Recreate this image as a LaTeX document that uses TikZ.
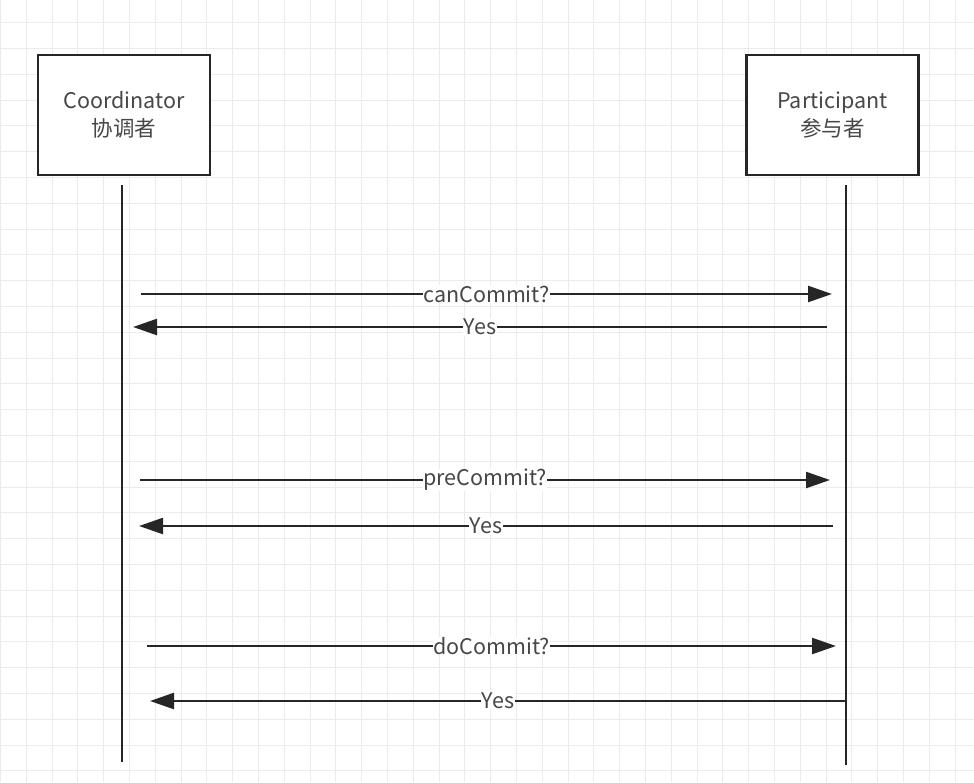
\documentclass[tikz,border=0pt]{standalone}
\usepackage{fontspec}
\setmainfont{Noto Sans CJK SC}
\usepackage{tikz}
\usetikzlibrary{arrows.meta}

\begin{document}
\begin{tikzpicture}[x=1pt, y=-1pt,
    gridline/.style={draw=black!8, line width=1pt},
    actor/.style={draw=black!85, line width=2.6pt, fill=white, minimum width=172pt, minimum height=120pt, align=center, text=black!72, font=\fontsize{21.5}{28}\selectfont},
    lifeline/.style={draw=black!85, line width=2.6pt},
    msg/.style={draw=black!85, line width=2.4pt, -{Triangle[length=24pt, width=16pt]}},
    lbl/.style={fill=white, inner sep=0.5pt, text=black!72, font=\fontsize{21.5}{26}\selectfont}]
    % 1. Background and grid
    \useasboundingbox (0,0) rectangle (974,782);
    \fill[white] (0,0) rectangle (974,782);
    \foreach \i in {0,...,37} {
        \draw[gridline] (0.4+25.8*\i,0) -- (0.4+25.8*\i,782);
    }
    \foreach \j in {0,...,30} {
        \draw[gridline] (0,22.6+25.8*\j-25.8) -- (974,22.6+25.8*\j-25.8);
    }

    % 2. The two parties
    \node[actor] (coord) at (124,115) {Coordinator\\协调者};
    \node[actor] (part) at (832.5,115) {Participant\\参与者};

    % 3. Lifelines
    \coordinate (coordTop) at (122,185);
    \coordinate (coordBot) at (122,762);
    \coordinate (partTop) at (846,185);
    \coordinate (partBot) at (846,765);
    \draw[lifeline] (coordTop) -- (coordBot);
    \draw[lifeline] (partTop) -- (partBot);

    % 4. Phase one: canCommit
    \coordinate (canA) at (141,294);
    \coordinate (canB) at (832,294);
    \coordinate (yesOneA) at (827,327);
    \coordinate (yesOneB) at (133,327);
    \draw[msg] (canA) -- node[lbl] {canCommit?} (canB);
    \draw[msg] (yesOneA) -- node[lbl] {Yes} (yesOneB);

    % 5. Phase two: preCommit
    \coordinate (preA) at (140,480);
    \coordinate (preB) at (830,480);
    \coordinate (yesTwoA) at (833,526);
    \coordinate (yesTwoB) at (139,526);
    \draw[msg] (preA) -- node[lbl] {preCommit?} (preB);
    \draw[msg] (yesTwoA) -- node[lbl] {Yes} (yesTwoB);

    % 6. Phase three: doCommit
    \coordinate (doA) at (147,646);
    \coordinate (doB) at (836,646);
    \coordinate (yesThreeA) at (846,701);
    \coordinate (yesThreeB) at (150,701);
    \draw[msg] (doA) -- node[lbl] {doCommit?} (doB);
    \draw[msg] (yesThreeA) -- node[lbl] {Yes} (yesThreeB);
\end{tikzpicture}
\end{document}
